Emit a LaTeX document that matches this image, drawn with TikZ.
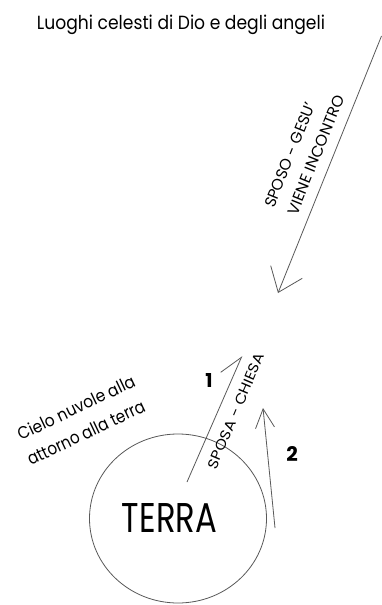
\documentclass[tikz,border=0pt]{standalone}
\usepackage{fontspec}
\setmainfont{Poppins}
\usepackage{graphicx}
\usetikzlibrary{arrows.meta,shapes.geometric}
\tikzset{
  ln/.style={draw=black!65, line width=0.8pt},
  lbl/.style={inner sep=0pt, text=black},
  num/.style={inner sep=0pt, text=black},
}
\newcommand{\fitbox}[3]{\resizebox{#1pt}{#2pt}{#3}}
\begin{document}
\begin{tikzpicture}[x=1pt,y=-1pt]
\fill[white] (0,0) rectangle (381,605);
\useasboundingbox (0,0) rectangle (381,605);
% title
\node[lbl, anchor=base] (title) at (181,29.5) {\fitbox{288}{14.5}{Luoghi celesti di Dio e degli angeli}};
% long arrow
\coordinate (gtop) at (381.5,36);
\coordinate (gtip) at (278,293);
\draw[ln, -{Straight Barb[length=22pt,width=34pt]}] (gtop) -- (gtip);
\node[lbl, rotate=68] (sposo) at (290,155) {\fitbox{112}{11}{SPOSO - GESU'}};
\node[lbl, rotate=68] (viene) at (316,155) {\fitbox{128}{11}{VIENE INCONTRO}};
% earth
\node[ellipse, ln, minimum width=177pt, minimum height=169pt, inner sep=0pt] (terra) at (178,518.5) {};
\node[lbl] (terralbl) at (169.5,517.5) {\fitbox{95}{29}{TERRA}};
% cloud text
\node[lbl, rotate=25.5] (cielo1) at (76,407.5) {\fitbox{128}{13}{Cielo nuvole alla}};
\node[lbl, rotate=25.5] (cielo2) at (86,432.5) {\fitbox{128}{13}{attorno alla terra}};
% arrow 1
\coordinate (a1s) at (187,482);
\coordinate (a1e) at (242,356);
\draw[ln, -{Straight Barb[harpoon,length=22pt,width=26pt]}] (a1s) -- (a1e);
\node[num] (n1) at (209,380) {\resizebox{!}{14pt}{\bfseries 1}};
\node[lbl, rotate=67] (sposa) at (236,411) {\fitbox{124}{10}{SPOSA - CHIESA}};
% arrow 2
\coordinate (a2s) at (275,528);
\coordinate (a2e) at (263,408);
\draw[ln, -{Straight Barb[length=19pt,width=19pt]}] (a2s) -- (a2e);
\node[num] (n2) at (292,454) {\resizebox{!}{15pt}{\bfseries 2}};
\end{tikzpicture}
\end{document}
